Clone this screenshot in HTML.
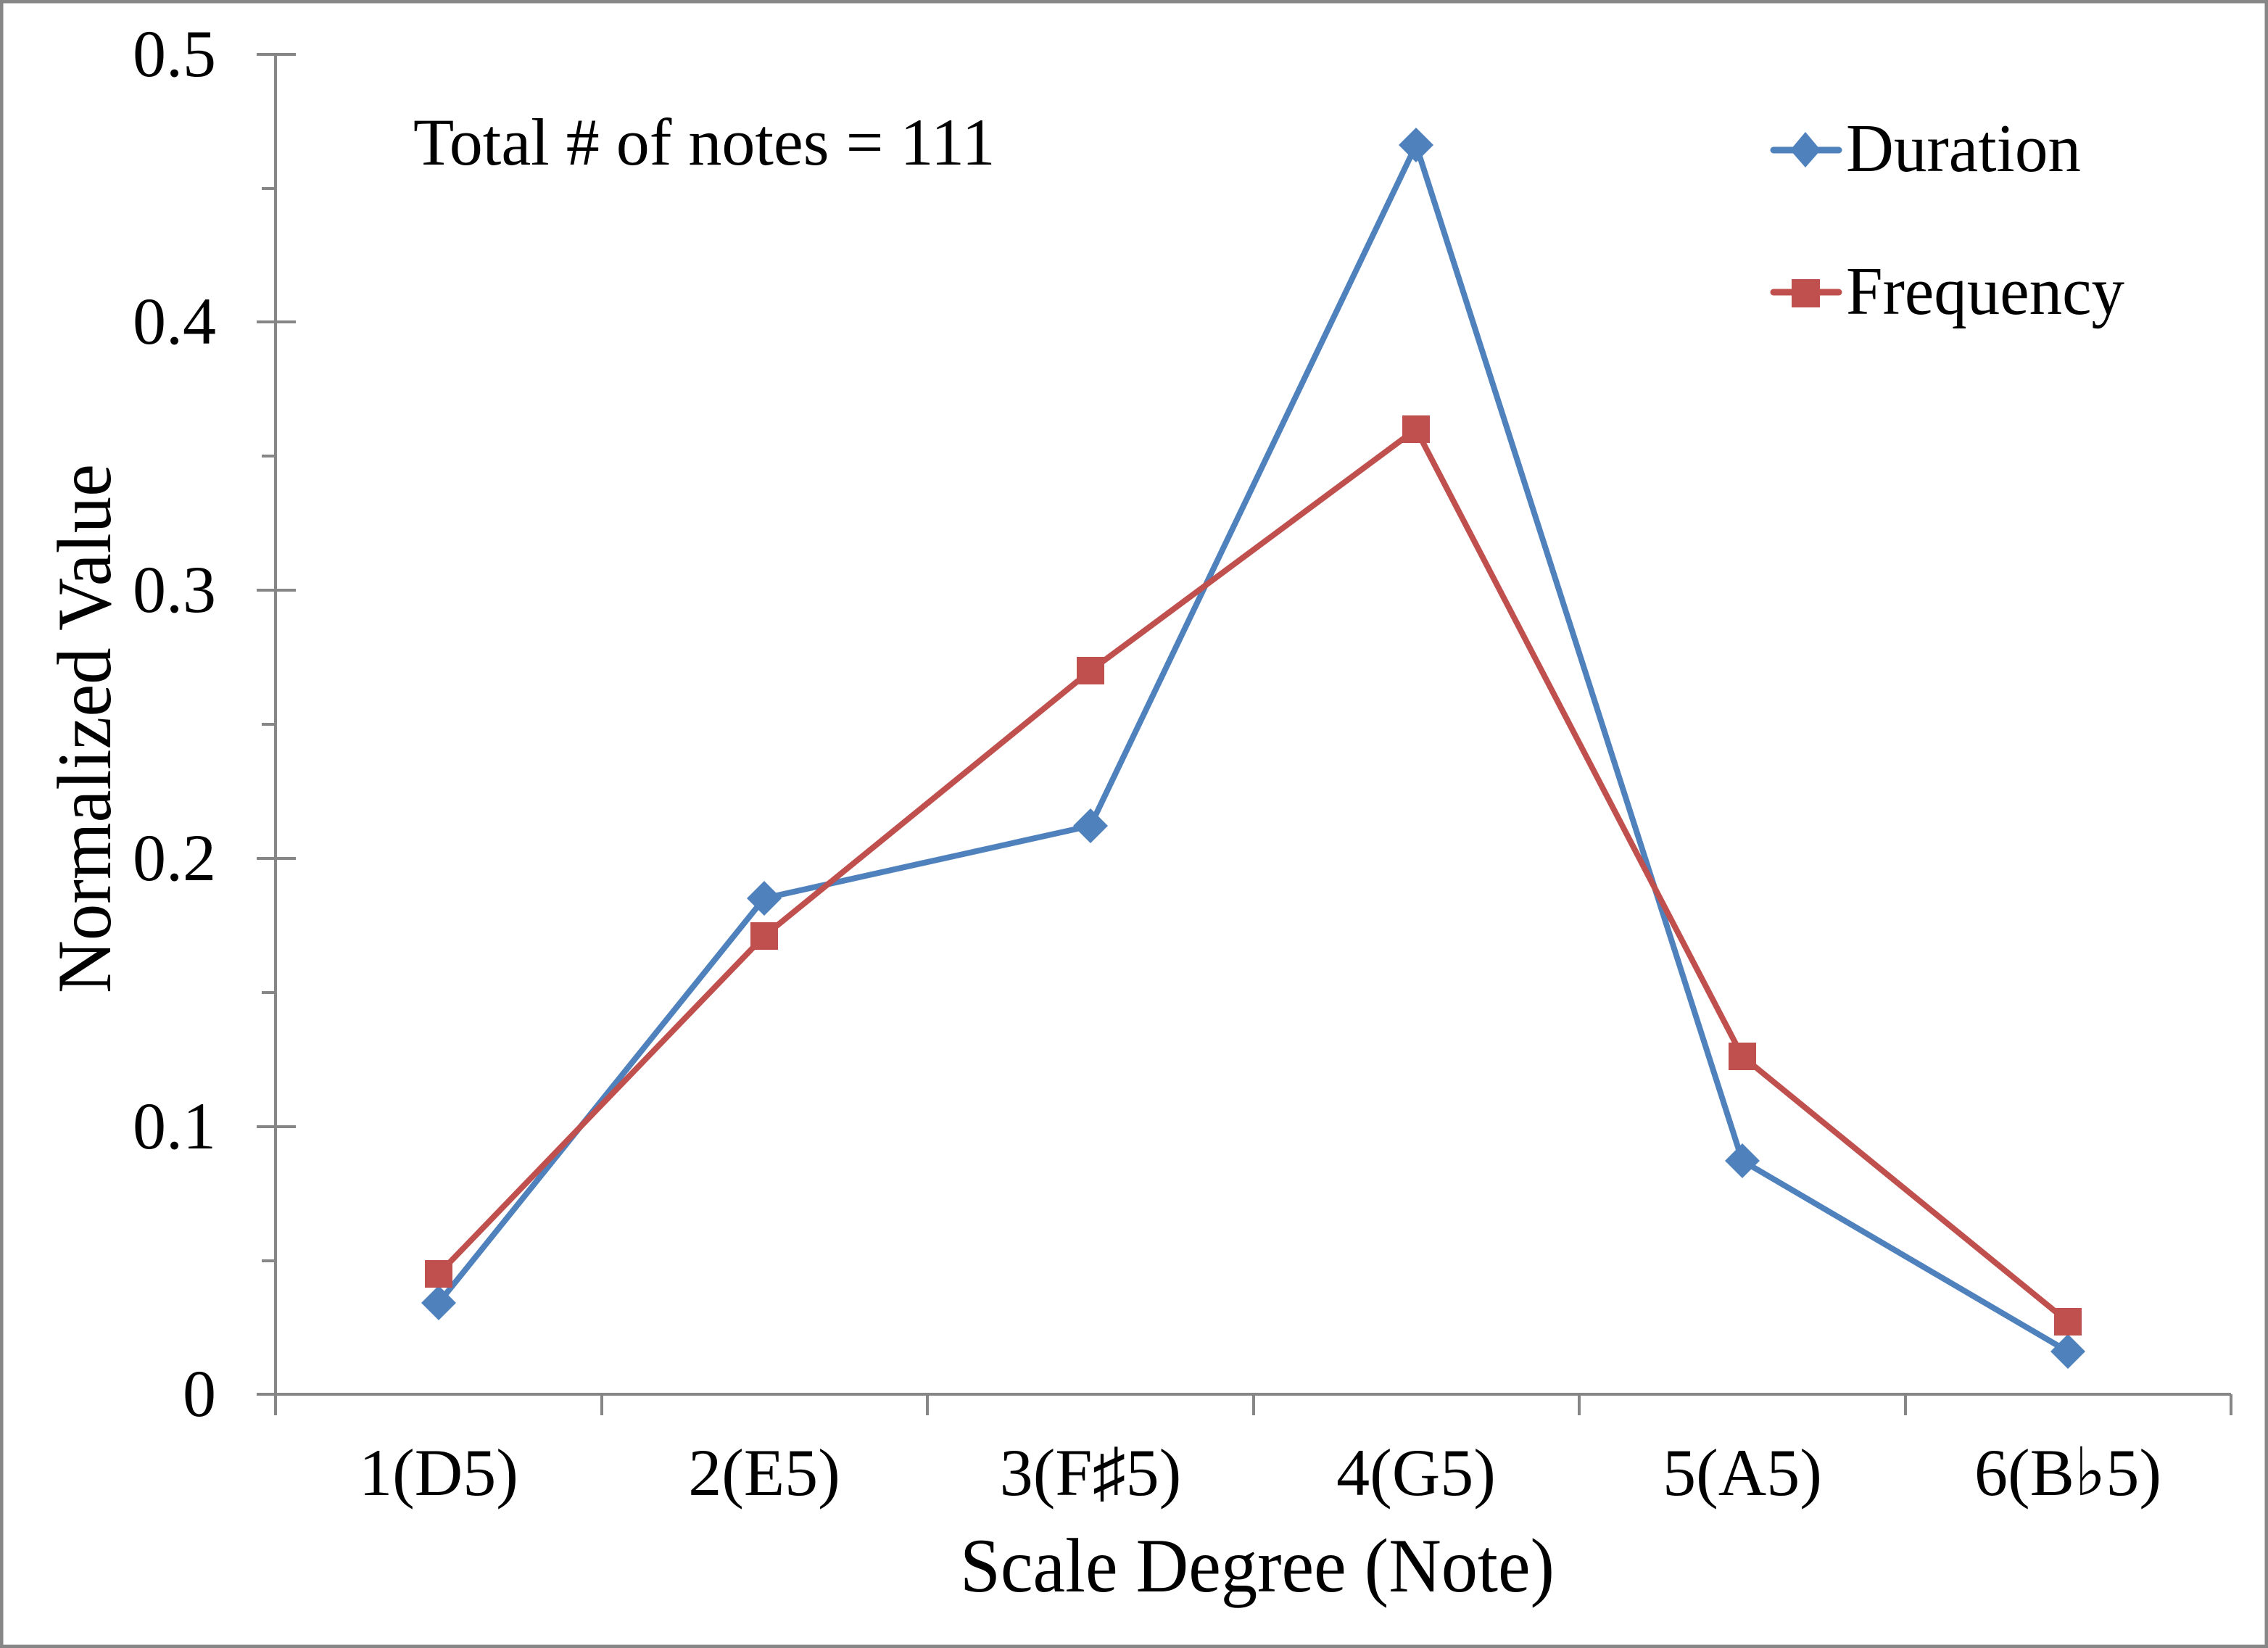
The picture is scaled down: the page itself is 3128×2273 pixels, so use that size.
<!DOCTYPE html>
<html><head><meta charset="utf-8"><style>
html,body{margin:0;padding:0;background:#fff}
svg{display:block}
text{font-family:"Liberation Serif","Times New Roman",serif;fill:#000}
</style></head><body>
<svg width="3128" height="2273" viewBox="0 0 3128 2273" xmlns="http://www.w3.org/2000/svg">
<rect x="2" y="2" width="3124" height="2269" fill="#fff" stroke="#868686" stroke-width="5"/>
<g stroke="#868686" stroke-width="4" fill="none">
<line x1="380" y1="74" x2="380" y2="1952"/>
<line x1="354" y1="1923" x2="3077" y2="1923"/>
<line x1="354" y1="75" x2="408" y2="75"/>
<line x1="354" y1="444" x2="408" y2="444"/>
<line x1="354" y1="814" x2="408" y2="814"/>
<line x1="354" y1="1184" x2="408" y2="1184"/>
<line x1="354" y1="1554" x2="408" y2="1554"/>
<line x1="361" y1="260" x2="380" y2="260"/>
<line x1="361" y1="629" x2="380" y2="629"/>
<line x1="361" y1="999" x2="380" y2="999"/>
<line x1="361" y1="1369" x2="380" y2="1369"/>
<line x1="361" y1="1739" x2="380" y2="1739"/>
<line x1="830" y1="1923" x2="830" y2="1952"/>
<line x1="1279" y1="1923" x2="1279" y2="1952"/>
<line x1="1729" y1="1923" x2="1729" y2="1952"/>
<line x1="2178" y1="1923" x2="2178" y2="1952"/>
<line x1="2628" y1="1923" x2="2628" y2="1952"/>
<line x1="3077" y1="1923" x2="3077" y2="1952"/>
</g>
<g font-size="92" text-anchor="end">
<text x="298" y="105">0.5</text>
<text x="298" y="474">0.4</text>
<text x="298" y="844">0.3</text>
<text x="298" y="1214">0.2</text>
<text x="298" y="1584">0.1</text>
<text x="298" y="1953">0</text>
</g>
<g font-size="92" text-anchor="middle">
<text x="605" y="2062">1(D5)</text>
<text x="1054" y="2062">2(E5)</text>
<text x="1504" y="2062">3(F♯5)</text>
<text x="1953" y="2062">4(G5)</text>
<text x="2403" y="2062">5(A5)</text>
<text x="2852" y="2062">6(B♭5)</text>
</g>
<text x="1324" y="2195" font-size="106" textLength="820" lengthAdjust="spacingAndGlyphs">Scale Degree (Note)</text>
<text transform="translate(152,1370) rotate(-90)" font-size="106" textLength="730" lengthAdjust="spacingAndGlyphs">Normalized Value</text>
<text x="570" y="227" font-size="92">Total # of notes = 111</text>
<polyline points="605,1797 1054,1239 1504,1139 1953,200 2403,1601 2852,1864" fill="none" stroke="#4F81BD" stroke-width="8" stroke-linejoin="round"/>
<polyline points="605,1757 1054,1291 1504,925 1953,592 2403,1457 2852,1823" fill="none" stroke="#C0504D" stroke-width="8" stroke-linejoin="round"/>
<g fill="#4F81BD">
<polygon points="605,1773 629,1797 605,1821 581,1797"/>
<polygon points="1054,1215 1078,1239 1054,1263 1030,1239"/>
<polygon points="1504,1115 1528,1139 1504,1163 1480,1139"/>
<polygon points="1953,176 1977,200 1953,224 1929,200"/>
<polygon points="2403,1577 2427,1601 2403,1625 2379,1601"/>
<polygon points="2852,1840 2876,1864 2852,1888 2828,1864"/>
</g>
<g fill="#C0504D">
<rect x="586" y="1738" width="38" height="38"/>
<rect x="1035" y="1272" width="38" height="38"/>
<rect x="1485" y="906" width="38" height="38"/>
<rect x="1934" y="573" width="38" height="38"/>
<rect x="2384" y="1438" width="38" height="38"/>
<rect x="2833" y="1804" width="38" height="38"/>
</g>
<line x1="2446" y1="207" x2="2536" y2="207" stroke="#4F81BD" stroke-width="9" stroke-linecap="round"/>
<polygon points="2490,182 2511,207 2490,231 2469,207" fill="#4F81BD"/>
<text x="2546" y="236" font-size="94" textLength="324" lengthAdjust="spacingAndGlyphs">Duration</text>
<line x1="2446" y1="403" x2="2536" y2="403" stroke="#C0504D" stroke-width="9" stroke-linecap="round"/>
<rect x="2471" y="385" width="39" height="39" fill="#C0504D"/>
<text x="2546" y="433" font-size="94" textLength="384" lengthAdjust="spacingAndGlyphs">Frequency</text>
</svg>
</body></html>
